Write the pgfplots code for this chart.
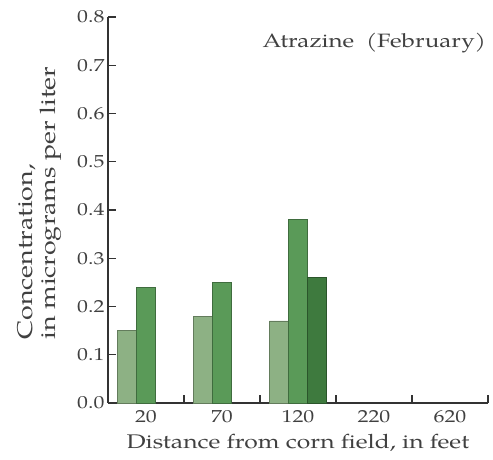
\documentclass[border=0pt]{standalone}
\usepackage{fontspec}
\setmainfont{TeX Gyre Pagella}[FakeStretch=1.25]
\usepackage{pgfplots}
\pgfplotsset{compat=1.18}

\definecolor{gLight}{HTML}{8DB184}
\definecolor{gMid}{HTML}{5A9A58}
\definecolor{gDark}{HTML}{3E7A3E}

\begin{document}
\begin{tikzpicture}
\begin{axis}[
  scale only axis,
  width=380bp, height=386bp,
  xmin=-0.5, xmax=4.5,
  ymin=0, ymax=0.8,
  axis x line=bottom, axis y line=left,
  axis line style={-, line width=1.5pt, black!80},
  every tick/.style={black!80, line width=1.2pt},
  major tick length=8bp,
  tick align=inside,
  % group separators on the x axis, category names between them
  xtick={0.5,1.5,2.5,3.5,4.5},
  xticklabels={},
  extra x ticks={0,1,2,3,4},
  extra x tick labels={20,70,120,220,620},
  extra x tick style={major tick length=0pt, xticklabel style={yshift=-4bp}},
  ytick={0,0.1,...,0.8},
  /pgf/number format/.cd, fixed, fixed zerofill, precision=1, assume math mode=true,
  /pgfplots/.cd,
  ticklabel style={font=\fontsize{17.5}{20}\selectfont, text=black!75},
  xlabel={Distance from corn field, in feet},
  xlabel style={font=\fontsize{19.8}{22}\selectfont, text=black!75, yshift=-4bp},
  ylabel={Concentration,\\in micrograms per liter},
  ylabel style={font=\fontsize{21.5}{23}\selectfont, text=black!75, align=left,
    at={(axis description cs:-0.1816,0.518)}, anchor=center},
  bar width=0.25,
  clip=false,
]
\addplot[ybar, bar shift=-0.25, fill=gLight, draw=gLight!70!black, line width=0.4pt]
  coordinates {(0,0.15) (1,0.18) (2,0.17)};
\addplot[ybar, bar shift=0, fill=gMid, draw=gMid!70!black, line width=0.4pt]
  coordinates {(0,0.24) (1,0.25) (2,0.38)};
\addplot[ybar, bar shift=0.25, fill=gDark, draw=gDark!70!black, line width=0.4pt]
  coordinates {(2,0.26)};
\node[anchor=base east, inner sep=0pt, text=black!75, font=\fontsize{19.4}{22}\selectfont]
  at (axis description cs:0.9947,0.92) {Atrazine\ \ (February)};
% page margins around the drawing
\path (axis description cs:-0.2842,-0.1477) rectangle (axis description cs:1.0132,1.0440);
\end{axis}
\end{tikzpicture}
\end{document}
